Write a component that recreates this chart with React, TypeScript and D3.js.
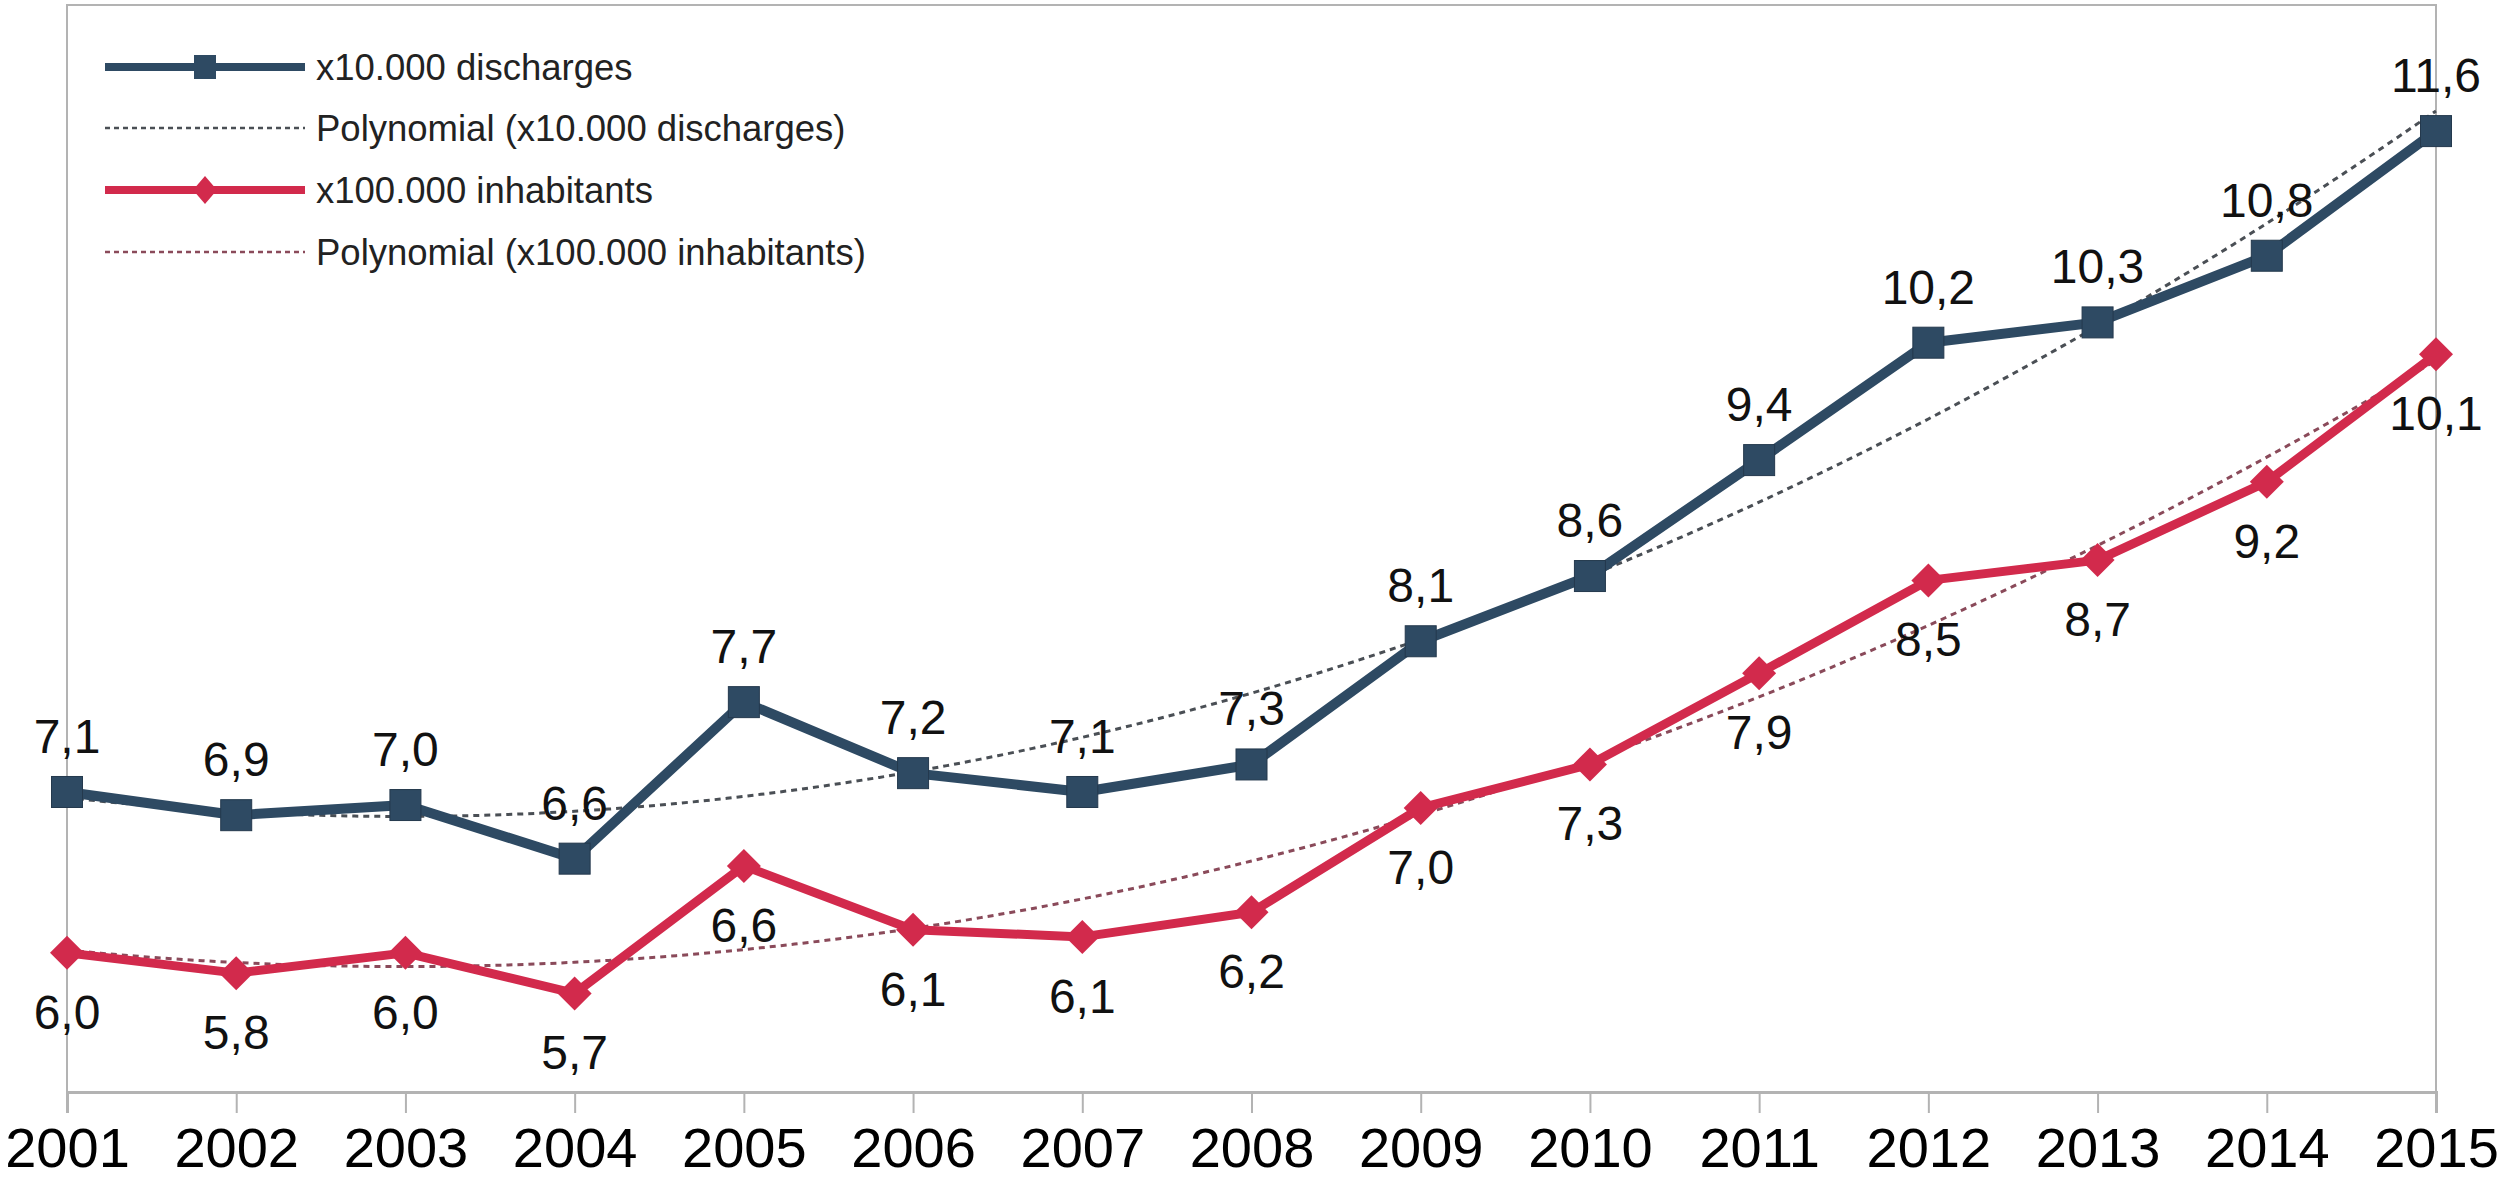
import { useRef, useEffect } from "react"
import * as d3 from "d3"

const years = ["2001", "2002", "2003", "2004", "2005", "2006", "2007", "2008", "2009", "2010", "2011", "2012", "2013", "2014", "2015"]
const discharges = [7.07, 6.91, 6.98, 6.61, 7.69, 7.2, 7.07, 7.26, 8.11, 8.56, 9.36, 10.17, 10.31, 10.77, 11.63]
const inhabitants = [5.96, 5.82, 5.96, 5.68, 6.56, 6.12, 6.07, 6.24, 6.96, 7.26, 7.89, 8.53, 8.67, 9.21, 10.09]
const legendLabels = ["x10.000 discharges", "Polynomial (x10.000 discharges)", "x100.000 inhabitants", "Polynomial (x100.000 inhabitants)"]

const BLUE = "#2e4a63"
const RED = "#d22a4c"
const BLUE_TREND = "#4a4f55"
const RED_TREND = "#8a4a5a"
const FONT = "'Liberation Sans', Arial, sans-serif"

// least squares fit of a 2nd degree polynomial, x = index
function polyFit(values: number[]) {
  let s0 = 0, s1 = 0, s2 = 0, s3 = 0, s4 = 0, t0 = 0, t1 = 0, t2 = 0
  values.forEach((v, i) => {
    s0 += 1; s1 += i; s2 += i * i; s3 += i * i * i; s4 += i * i * i * i
    t0 += v; t1 += v * i; t2 += v * i * i
  })
  // solve 3x3 system via Cramer's rule
  const det = (m: number[][]) =>
    m[0][0] * (m[1][1] * m[2][2] - m[1][2] * m[2][1]) -
    m[0][1] * (m[1][0] * m[2][2] - m[1][2] * m[2][0]) +
    m[0][2] * (m[1][0] * m[2][1] - m[1][1] * m[2][0])
  const A = [[s0, s1, s2], [s1, s2, s3], [s2, s3, s4]]
  const b = [t0, t1, t2]
  const D = det(A)
  const coef = [0, 1, 2].map((k) => det(A.map((row, r) => row.map((c, j) => (j === k ? b[r] : c)))) / D)
  return (x: number) => coef[0] + coef[1] * x + coef[2] * x * x
}

export default function App() {
  const svgRef = useRef<SVGSVGElement | null>(null)

  useEffect(() => {
    if (!svgRef.current) return
    const svg = d3.select(svgRef.current)
    svg.selectAll("*").remove()

    const left = 67
    const right = 2436
    const top = 5
    const bottom = 1092

    const x = d3.scalePoint<string>().domain(years).range([left, right])
    const y = d3.scaleLinear().domain([5, 12.5]).range([bottom, top])
    const fmt = (v: number) => d3.format(".1f")(v).replace(".", ",")

    svg.append("rect").attr("width", 2500).attr("height", 1178).attr("fill", "#fff")

    // plot frame
    svg
      .append("path")
      .attr("d", `M${left},${bottom}V${top}H${right}V${bottom}`)
      .attr("fill", "none")
      .attr("stroke", "#b3b3b3")
      .attr("stroke-width", 2)

    // x axis
    const axis = svg
      .append("g")
      .attr("transform", `translate(0,${bottom})`)
      .call(d3.axisBottom(x).tickSize(21).tickPadding(14))
    axis.select(".domain").attr("stroke", "#b3b3b3").attr("stroke-width", 3)
    axis.selectAll(".tick line").attr("stroke", "#b3b3b3").attr("stroke-width", 2)
    axis
      .selectAll(".tick text")
      .attr("font-family", FONT)
      .attr("font-size", 56)
      .attr("fill", "#000")

    // trend lines
    const trend = (values: number[], color: string) => {
      const f = polyFit(values)
      const pts = d3.range(0, values.length - 1 + 0.001, 0.1)
      const step = x.step()
      svg
        .append("path")
        .datum(pts)
        .attr("fill", "none")
        .attr("stroke", color)
        .attr("stroke-width", 3)
        .attr("stroke-dasharray", "6 5")
        .attr("d", d3.line<number>().x((t) => left + t * step).y((t) => y(f(t))))
    }
    trend(discharges, BLUE_TREND)
    trend(inhabitants, RED_TREND)

    const line = d3
      .line<number>()
      .x((_, i) => x(years[i]) as number)
      .y((d) => y(d))

    // discharges series
    svg.append("path").datum(discharges).attr("fill", "none").attr("stroke", BLUE).attr("stroke-width", 10).attr("stroke-linejoin", "round").attr("d", line)
    svg
      .selectAll(".sq")
      .data(discharges)
      .enter()
      .append("rect")
      .attr("x", (_, i) => (x(years[i]) as number) - 15.5)
      .attr("y", (d) => y(d) - 15.5)
      .attr("width", 31)
      .attr("height", 31)
      .attr("fill", BLUE)
      .attr("stroke", "#24394d")
      .attr("stroke-width", 1)

    // inhabitants series
    svg.append("path").datum(inhabitants).attr("fill", "none").attr("stroke", RED).attr("stroke-width", 9).attr("stroke-linejoin", "round").attr("d", line)
    svg
      .selectAll(".dia")
      .data(inhabitants)
      .enter()
      .append("path")
      .attr("d", (d, i) => {
        const cx = x(years[i]) as number
        const cy = y(d)
        const r = 17
        return `M${cx},${cy - r}L${cx + r},${cy}L${cx},${cy + r}L${cx - r},${cy}Z`
      })
      .attr("fill", RED)

    // data labels
    svg
      .selectAll(".lblB")
      .data(discharges)
      .enter()
      .append("text")
      .attr("x", (_, i) => x(years[i]) as number)
      .attr("y", (d) => y(d) - 39)
      .attr("text-anchor", "middle")
      .attr("font-family", FONT)
      .attr("font-size", 48)
      .attr("fill", "#111")
      .text((d) => fmt(d))
    svg
      .selectAll(".lblR")
      .data(inhabitants)
      .enter()
      .append("text")
      .attr("x", (_, i) => x(years[i]) as number)
      .attr("y", (d) => y(d) + 76)
      .attr("text-anchor", "middle")
      .attr("font-family", FONT)
      .attr("font-size", 48)
      .attr("fill", "#111")
      .text((d) => fmt(d))

    // legend
    const rows = [67, 128, 190, 252]
    const lg = svg.append("g")
    rows.forEach((ry, k) => {
      const isTrend = k % 2 === 1
      const color = k < 2 ? (isTrend ? BLUE_TREND : BLUE) : isTrend ? RED_TREND : RED
      lg.append("line")
        .attr("x1", 105)
        .attr("x2", 305)
        .attr("y1", ry)
        .attr("y2", ry)
        .attr("stroke", color)
        .attr("stroke-width", isTrend ? 2.5 : 8)
        .attr("stroke-dasharray", isTrend ? "5 4" : null)
      if (k === 0) {
        lg.append("rect").attr("x", 194).attr("y", ry - 12).attr("width", 22).attr("height", 24).attr("fill", BLUE)
      }
      if (k === 2) {
        lg.append("path").attr("d", `M205,${ry - 14}L217,${ry}L205,${ry + 14}L193,${ry}Z`).attr("fill", RED)
      }
      lg.append("text")
        .attr("x", 316)
        .attr("y", ry + 13)
        .attr("font-family", FONT)
        .attr("font-size", 36.5)
        .attr("fill", "#222")
        .text(legendLabels[k])
    })
  }, [])

  return <svg ref={svgRef} width={2500} height={1178} style={{ position: "absolute", left: 0, top: 0, display: "block" }}></svg>
}
